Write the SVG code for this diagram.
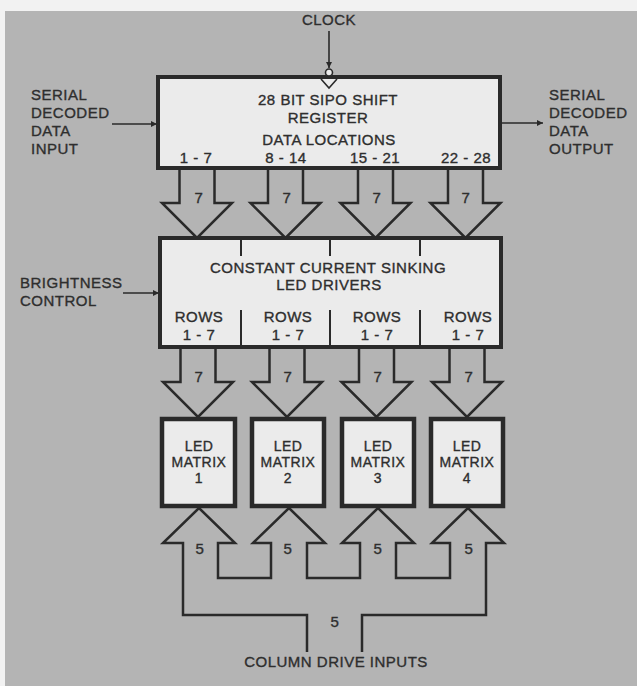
<svg xmlns="http://www.w3.org/2000/svg" width="637" height="686" viewBox="0 0 637 686">
<defs>
<style>
text{font-family:"Liberation Sans",Arial,sans-serif;font-size:15px;letter-spacing:0.5px;fill:#2e2e2e;stroke:#2e2e2e;stroke-width:0.35px}
.c{text-anchor:middle}
.m{font-size:14px}
.box{fill:#ebebeb;stroke:#2a2a2a;stroke-width:4}
.mx{fill:#ebebeb;stroke:#2a2a2a;stroke-width:4.5}
.fat{fill:none;stroke:#2a2a2a;stroke-width:2.5;stroke-linejoin:miter}
.ln{fill:none;stroke:#2a2a2a;stroke-width:1.6}
.div{stroke:#2a2a2a;stroke-width:2}
</style>
<marker id="ah" viewBox="0 0 10 10" refX="10" refY="5" markerWidth="9" markerHeight="6" markerUnits="userSpaceOnUse" orient="auto">
<path d="M0,0 L10,5 L0,10 z" fill="#2a2a2a"/>
</marker>
</defs>
<rect width="637" height="686" fill="#f2f2f2"/>
<rect x="5" y="11" width="632" height="675" fill="#b4b4b4"/>

<g id="connectors">
<line class="ln" x1="329" y1="31" x2="329" y2="68" marker-end="url(#ah)"/>
<line class="ln" x1="112" y1="124" x2="157" y2="124" marker-end="url(#ah)"/>
<line class="ln" x1="502" y1="123" x2="543" y2="123" marker-end="url(#ah)"/>
<line class="ln" x1="123" y1="293" x2="159" y2="293" marker-end="url(#ah)"/>
<polyline class="fat" points="179.5,170 179.5,203 162,203 197,238 232,203 214.5,203 214.5,170"/>
<polyline class="fat" points="268,170 268,203 250.5,203 285.5,238 320.5,203 303,203 303,170"/>
<polyline class="fat" points="358,170 358,203 340.5,203 375.5,238 410.5,203 393,203 393,170"/>
<polyline class="fat" points="448,170 448,203 430.5,203 465.5,238 500.5,203 483,203 483,170"/>
<polyline class="fat" points="180.5,349 180.5,382 163,382 198,417 233,382 215.5,382 215.5,349"/>
<polyline class="fat" points="269.5,349 269.5,382 252,382 287,417 322,382 304.5,382 304.5,349"/>
<polyline class="fat" points="359,349 359,382 341.5,382 376.5,417 411.5,382 394,382 394,349"/>
<polyline class="fat" points="449.5,349 449.5,382 432,382 467,417 502,382 484.5,382 484.5,349"/>
<polyline class="fat" points="307,652 307,615 183,615 183,543 163,543 199,508 235,543 218,543 218,578 271,578 271,543 253,543 289,508 325,543 307,543 307,578 360,578 360,543 342,543 378,508 414,543 396,543 396,578 450,578 450,543 432,543 468,508 504,543 486,543 486,615 362,615 362,652"/>
<text class="c" x="199" y="203">7</text>
<text class="c" x="287" y="203">7</text>
<text class="c" x="377" y="203">7</text>
<text class="c" x="466" y="203">7</text>
<text class="c" x="199" y="382">7</text>
<text class="c" x="288" y="382">7</text>
<text class="c" x="378" y="382">7</text>
<text class="c" x="469" y="382">7</text>
<text class="c" x="200" y="554">5</text>
<text class="c" x="288" y="554">5</text>
<text class="c" x="378" y="554">5</text>
<text class="c" x="469" y="554">5</text>
<text class="c" x="335" y="627">5</text>
</g>

<g id="shift-register">
<rect class="box" x="158" y="77" width="342" height="91"/>
<circle cx="329" cy="72.5" r="3.5" fill="#ebebeb" stroke="#2a2a2a" stroke-width="1.6"/>
<polyline points="321,79 329,88 337,79" fill="none" stroke="#2a2a2a" stroke-width="1.6"/>
<text class="c" x="328" y="105">28 BIT SIPO SHIFT</text>
<text class="c" x="328" y="123">REGISTER</text>
<text class="c" x="329" y="145">DATA LOCATIONS</text>
<text class="c" x="196" y="163">1 - 7</text>
<text class="c" x="286" y="163">8 - 14</text>
<text class="c" x="375" y="163">15 - 21</text>
<text class="c" x="466" y="163">22 - 28</text>
</g>

<g id="led-drivers">
<rect class="box" x="160" y="238" width="341" height="109"/>
<line class="div" x1="241" y1="238" x2="241" y2="256"/>
<line class="div" x1="330" y1="238" x2="330" y2="256"/>
<line class="div" x1="420" y1="238" x2="420" y2="256"/>
<line class="div" x1="241" y1="310" x2="241" y2="347"/>
<line class="div" x1="330" y1="310" x2="330" y2="347"/>
<line class="div" x1="420" y1="310" x2="420" y2="347"/>
<text class="c" x="328" y="273">CONSTANT CURRENT SINKING</text>
<text class="c" x="329" y="290">LED DRIVERS</text>
<text class="c" x="199" y="322">ROWS</text>
<text class="c" x="199" y="340">1 - 7</text>
<text class="c" x="288" y="322">ROWS</text>
<text class="c" x="288" y="340">1 - 7</text>
<text class="c" x="377" y="322">ROWS</text>
<text class="c" x="377" y="340">1 - 7</text>
<text class="c" x="468" y="322">ROWS</text>
<text class="c" x="468" y="340">1 - 7</text>
</g>

<g id="matrix-1">
<rect class="mx" x="162" y="419" width="73" height="87"/>
<text class="c m" x="199" y="451">LED</text>
<text class="c m" x="199" y="467">MATRIX</text>
<text class="c m" x="199" y="483">1</text>
</g>
<g id="matrix-2">
<rect class="mx" x="252" y="419" width="72" height="87"/>
<text class="c m" x="288" y="451">LED</text>
<text class="c m" x="288" y="467">MATRIX</text>
<text class="c m" x="288" y="483">2</text>
</g>
<g id="matrix-3">
<rect class="mx" x="342" y="419" width="72" height="87"/>
<text class="c m" x="378" y="451">LED</text>
<text class="c m" x="378" y="467">MATRIX</text>
<text class="c m" x="378" y="483">3</text>
</g>
<g id="matrix-4">
<rect class="mx" x="431" y="419" width="72" height="87"/>
<text class="c m" x="467" y="451">LED</text>
<text class="c m" x="467" y="467">MATRIX</text>
<text class="c m" x="467" y="483">4</text>
</g>

<g id="clock-label"><text class="c" x="329" y="25">CLOCK</text></g>
<g id="serial-input">
<text x="31" y="100">SERIAL</text>
<text x="31" y="118">DECODED</text>
<text x="31" y="136">DATA</text>
<text x="31" y="154">INPUT</text>
</g>
<g id="serial-output">
<text x="549" y="100">SERIAL</text>
<text x="549" y="118">DECODED</text>
<text x="549" y="136">DATA</text>
<text x="549" y="154">OUTPUT</text>
</g>
<g id="brightness-control">
<text x="20" y="288">BRIGHTNESS</text>
<text x="20" y="306">CONTROL</text>
</g>
<g id="column-drive-inputs">
<text class="c" x="336" y="667">COLUMN DRIVE INPUTS</text>
</g>
</svg>
